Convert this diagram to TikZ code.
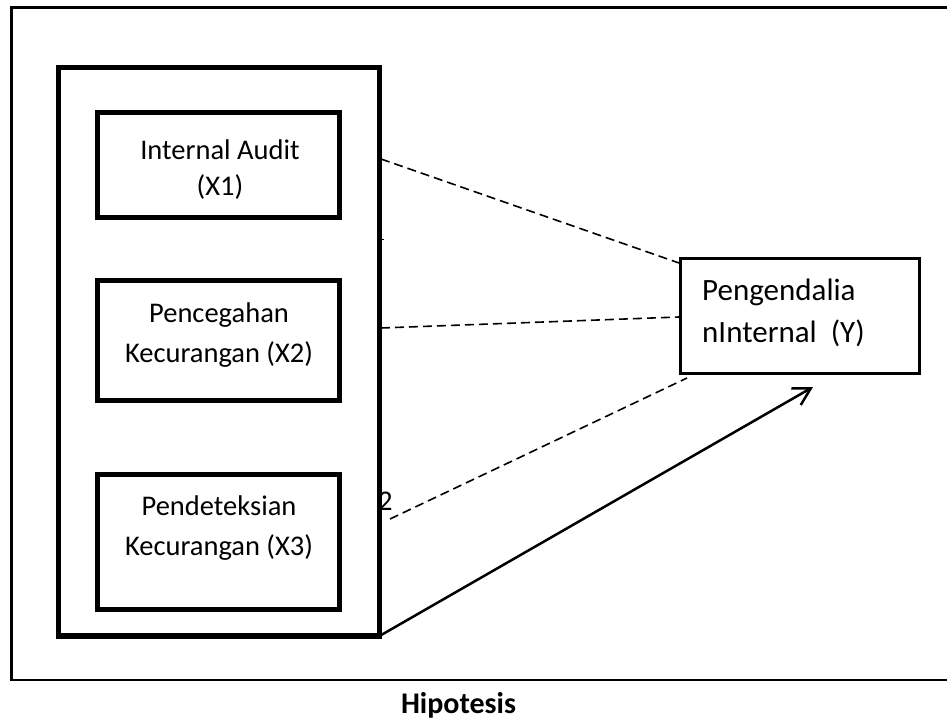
\documentclass[tikz,border=0pt]{standalone}
\usepackage{fontspec}
\setmainfont{Carlito}
\usetikzlibrary{arrows.meta}
\begin{document}
\begin{tikzpicture}[x=1pt,y=-1pt,
  frameline/.style={line width=2.5pt},
  groupbox/.style={draw,line width=5.5pt,inner sep=0pt,outer sep=0pt},
  varbox/.style={draw,line width=5pt,inner sep=0pt,outer sep=0pt,minimum width=242pt},
  ybox/.style={draw,line width=2.5pt,inner sep=0pt,outer sep=0pt},
  lbl/.style={font=\fontsize{28.5}{34}\selectfont,inner sep=0pt,anchor=base},
  ylbl/.style={font=\fontsize{31}{37}\selectfont,inner sep=0pt,anchor=base west},
  hyp/.style={dash pattern=on 9pt off 5pt,line width=1.6pt},
  mainarrow/.style={line width=2.5pt,-{Straight Barb[length=17pt,width=19pt]}},
]
\useasboundingbox (0,0) rectangle (947,722);
% outer frame (right side runs past the image edge)
\draw[frameline] (952,7.3) -- (11.3,7.3) -- (11.3,680) -- (952,680);

% group box and variable boxes
\node[groupbox,minimum width=321pt,minimum height=568.5pt] (big) at (219,351.75) {};
\node[varbox,minimum height=105pt] (x1) at (218.5,165) {};
\node[varbox,minimum height=120pt] (x2) at (218.5,340.5) {};
\node[varbox,minimum height=135pt] (x3) at (218.5,542) {};
\node[ybox,minimum width=239pt,minimum height=115pt] (y) at (800,316) {};

% texts
\node[lbl] (t1a) at (220,160) {Internal Audit};
\node[lbl] (t1b) at (220,196) {(X1)};
\node[lbl] (t2a) at (219,322) {Pencegahan};
\node[lbl] (t2b) at (219,362) {Kecurangan (X2)};
\node[lbl] (t3a) at (219,515) {Pendeteksian};
\node[lbl] (t3b) at (219,555) {Kecurangan (X3)};
\node[ylbl] (ya) at (702,300) {Pengendalia};
\node[ylbl] (yb) at (702,342) {nInternal~ (Y)};
\node[lbl,anchor=base west] (two) at (378,510) {2};
\node[font=\bfseries\fontsize{30}{36}\selectfont,inner sep=0pt,anchor=base] (title) at (458.5,713) {Hipotesis};

% connector end points
\coordinate (s1) at (381,159);
\coordinate (e1) at (679,263);
\coordinate (s2) at (381,328);
\coordinate (e2) at (679,317);
\coordinate (s3) at (390,519);
\coordinate (e3) at (687,378);
\coordinate (tip) at (813,387);
\coordinate (tickA) at (380,239.3);
\coordinate (tickB) at (383.5,239.3);

\draw[hyp] (s1) -- (e1);
\draw[hyp] (s2) -- (e2);
\draw[hyp] (s3) -- (e3);
\draw[mainarrow] (big.south east) -- (tip);
\draw[line width=1pt] (tickA) -- (tickB);
\end{tikzpicture}
\end{document}
